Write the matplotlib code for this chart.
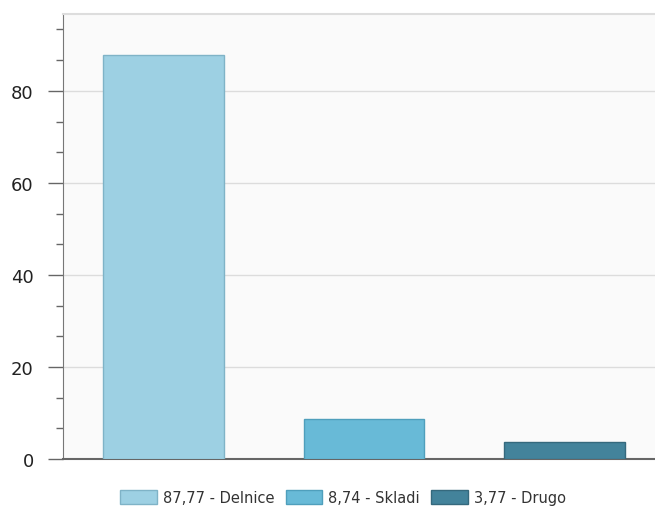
import matplotlib
matplotlib.use("Agg")
import matplotlib.pyplot as plt
from matplotlib.patches import Patch
from matplotlib.ticker import MultipleLocator

categories = ["Delnice", "Skladi", "Drugo"]
values = [87.77, 8.74, 3.77]
labels = ["87,77 - Delnice", "8,74 - Skladi", "3,77 - Drugo"]
colors = ["#9dd0e3", "#68bad7", "#43839b"]
edges = ["#7fb3c7", "#4f9fbc", "#35697d"]

fig = plt.figure(figsize=(6.55, 5.10), dpi=100)
ax = fig.add_axes([63 / 655, 50 / 510, 1 - 63 / 655, 445 / 510])
ax.set_facecolor("#fafafa")

x = range(len(values))
ax.bar(x, values, width=0.6, color=colors, edgecolor=edges, linewidth=1, zorder=3)

ax.set_xlim(-0.5, 2.45)
ax.set_ylim(0, 96.7)
ax.yaxis.set_major_locator(MultipleLocator(20))
ax.yaxis.set_minor_locator(MultipleLocator(20 / 3))
ax.grid(axis="y", which="major", color="#dcdcdc", linewidth=1, zorder=0)
ax.set_xticks([])

ax.tick_params(axis="y", which="major", length=11, width=1, color="#666666",
               labelsize=13, labelcolor="#222222", pad=10)
ax.tick_params(axis="y", which="minor", length=5, width=1, color="#666666")

ax.spines["left"].set_color("#777777")
ax.spines["bottom"].set_color("#666666")
ax.spines["bottom"].set_linewidth(1.5)
ax.spines["top"].set_color("#dddddd")
ax.spines["top"].set_linewidth(1.5)
ax.spines["right"].set_visible(False)

handles = [Patch(facecolor=c, edgecolor=e, label=l) for c, e, l in zip(colors, edges, labels)]
fig.legend(handles=handles, loc="center", bbox_to_anchor=(343 / 655, 11.5 / 510), ncol=3,
           frameon=False, fontsize=10.5, handlelength=2.5, handleheight=1.15,
           handletextpad=0.4, columnspacing=0.8, labelcolor="#333333")

fig.savefig("out.png", dpi=100)
